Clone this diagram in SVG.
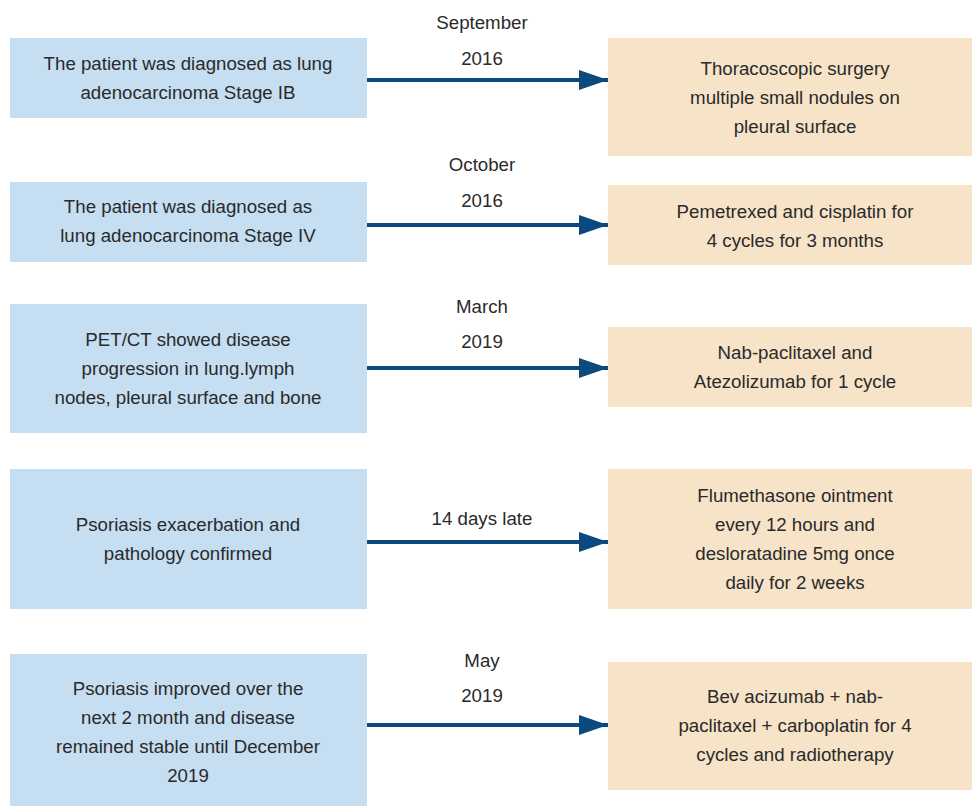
<svg xmlns="http://www.w3.org/2000/svg" width="972" height="806" viewBox="0 0 972 806">
<style>
.l{fill:#C6DEF1}
.r{fill:#F6E3C8}
text{font-family:"Liberation Sans",Arial,sans-serif;font-size:18.7px;fill:#2a2a2a;text-anchor:middle}
.c{stroke:#0B4A80;stroke-width:4;fill:none}
</style>
<defs>
<marker id="ah" markerUnits="userSpaceOnUse" markerWidth="30" markerHeight="24" refX="29" refY="12" orient="auto">
<path d="M0,2 L29,12 L0,22 Z" fill="#0B4A80"/>
</marker>
</defs>
<rect width="972" height="806" fill="#fff"/>
<g id="connectors">
<line class="c" x1="367" y1="80" x2="608" y2="80" marker-end="url(#ah)"/>
<line class="c" x1="367" y1="225" x2="608" y2="225" marker-end="url(#ah)"/>
<line class="c" x1="367" y1="368" x2="608" y2="368" marker-end="url(#ah)"/>
<line class="c" x1="367" y1="542" x2="608" y2="542" marker-end="url(#ah)"/>
<line class="c" x1="367" y1="725" x2="608" y2="725" marker-end="url(#ah)"/>
<text x="482" y="29">September</text>
<text x="482" y="65">2016</text>
<text x="482" y="171">October</text>
<text x="482" y="207">2016</text>
<text x="482" y="313">March</text>
<text x="482" y="348">2019</text>
<text x="482" y="525">14 days late</text>
<text x="482" y="667">May</text>
<text x="482" y="702">2019</text>
</g>
<g id="n1"><rect class="l" x="10" y="38" width="357" height="80"/>
<text x="188" y="70">The patient was diagnosed as lung</text>
<text x="188" y="99">adenocarcinoma Stage IB</text></g>
<g id="n2"><rect class="r" x="608" y="38" width="364" height="118"/>
<text x="795" y="75">Thoracoscopic surgery</text>
<text x="795" y="104">multiple small nodules on</text>
<text x="795" y="133">pleural surface</text></g>
<g id="n3"><rect class="l" x="10" y="182" width="357" height="80"/>
<text x="188" y="213">The patient was diagnosed as</text>
<text x="188" y="242">lung adenocarcinoma Stage IV</text></g>
<g id="n4"><rect class="r" x="608" y="185" width="364" height="80"/>
<text x="795" y="218">Pemetrexed and cisplatin for</text>
<text x="795" y="247">4 cycles for 3 months</text></g>
<g id="n5"><rect class="l" x="10" y="304" width="357" height="129"/>
<text x="188" y="346">PET/CT showed disease</text>
<text x="188" y="375">progression in lung.lymph</text>
<text x="188" y="404">nodes, pleural surface and bone</text></g>
<g id="n6"><rect class="r" x="608" y="327" width="364" height="80"/>
<text x="795" y="359">Nab-paclitaxel and</text>
<text x="795" y="388">Atezolizumab for 1 cycle</text></g>
<g id="n7"><rect class="l" x="10" y="469" width="357" height="140"/>
<text x="188" y="531">Psoriasis exacerbation and</text>
<text x="188" y="560">pathology confirmed</text></g>
<g id="n8"><rect class="r" x="608" y="469" width="364" height="140"/>
<text x="795" y="502">Flumethasone ointment</text>
<text x="795" y="531">every 12 hours and</text>
<text x="795" y="560">desloratadine 5mg once</text>
<text x="795" y="589">daily for 2 weeks</text></g>
<g id="n9"><rect class="l" x="10" y="654" width="357" height="152"/>
<text x="188" y="695">Psoriasis improved over the</text>
<text x="188" y="724">next 2 month and disease</text>
<text x="188" y="753">remained stable until December</text>
<text x="188" y="782">2019</text></g>
<g id="n10"><rect class="r" x="608" y="662" width="364" height="128"/>
<text x="795" y="703">Bev acizumab + nab-</text>
<text x="795" y="732">paclitaxel + carboplatin for 4</text>
<text x="795" y="761">cycles and radiotherapy</text></g>
</svg>
